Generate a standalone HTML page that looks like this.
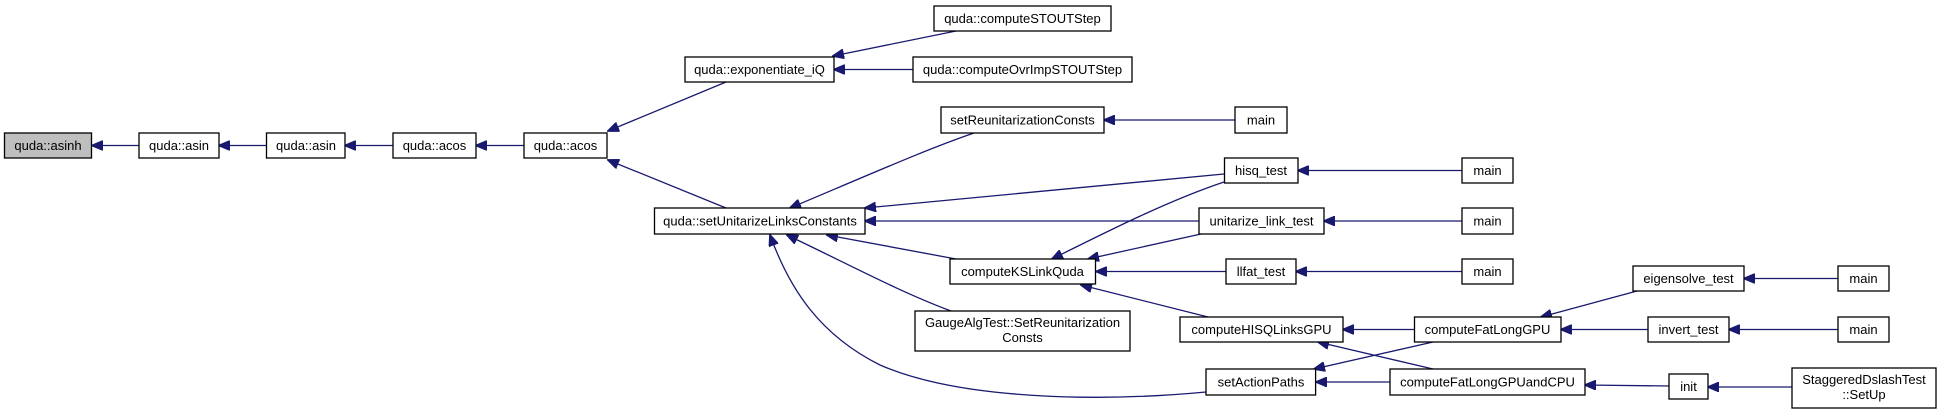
<!DOCTYPE html>
<html><head><meta charset="utf-8"><style>
html,body{margin:0;padding:0;background:#fff;}
svg{display:block;}
text{font-family:"Liberation Sans",Arial,sans-serif;font-size:13px;fill:#000;text-anchor:middle;}
rect{fill:#fff;stroke:#000;stroke-width:1.3;}
.e{fill:none;stroke:#191970;stroke-width:1.3;marker-end:url(#a);}
</style></head><body>
<svg width="1941" height="414" viewBox="0 0 1941 414" xmlns="http://www.w3.org/2000/svg">
<defs><marker id="a" markerWidth="12" markerHeight="10" refX="11" refY="5" orient="auto" markerUnits="userSpaceOnUse"><path d="M0,0 L12,5 L0,10 z" fill="#191970" stroke="#191970"/></marker></defs>
<!-- edges -->
<path class="e" d="M139,145.5 L92,145.5"/>
<path class="e" d="M266,145.5 L219,145.5"/>
<path class="e" d="M393,145.5 L345,145.5"/>
<path class="e" d="M524,145.5 L476,145.5"/>
<path class="e" d="M726,82 L608,131"/>
<path class="e" d="M726,208 L608,160"/>
<path class="e" d="M956,31 L833,56"/>
<path class="e" d="M913,69.5 L834,69.5"/>
<path class="e" d="M974,133 C930,148 880,170 790,208"/>
<path class="e" d="M1224,174 L865,208"/>
<path class="e" d="M1199,221 L865,221"/>
<path class="e" d="M956,259 L827,235"/>
<path class="e" d="M951,311 C900,292 850,265 787,235"/>
<path class="e" d="M1206,392 C1100,402 960,400 880,365 C820,335 790,290 770,235"/>
<path class="e" d="M1235,120 L1104,120"/>
<path class="e" d="M1224,182 C1170,200 1110,230 1052,259"/>
<path class="e" d="M1201,234 L1088,259"/>
<path class="e" d="M1226,271.5 L1096,271.5"/>
<path class="e" d="M1208,317 L1081,285"/>
<path class="e" d="M1462,170.5 L1298,170.5"/>
<path class="e" d="M1462,221 L1324,221"/>
<path class="e" d="M1462,271.5 L1296,271.5"/>
<path class="e" d="M1414,329.5 L1343,329.5"/>
<path class="e" d="M1433,369 L1318,342"/>
<path class="e" d="M1433,342 L1314,369"/>
<path class="e" d="M1390,382 L1316,382"/>
<path class="e" d="M1637,291 L1541,317"/>
<path class="e" d="M1648,329.5 L1561,329.5"/>
<path class="e" d="M1669,386 L1585,385"/>
<path class="e" d="M1792,387 L1708,387"/>
<path class="e" d="M1838,278.5 L1744,278.5"/>
<path class="e" d="M1838,329.5 L1729,329.5"/>
<!-- nodes -->
<rect x="4.5" y="133" width="87" height="25" style="fill:#bfbfbf"/><text x="48" y="150">quda::asinh</text>
<rect x="139" y="133" width="80" height="25"/><text x="179" y="150">quda::asin</text>
<rect x="266.5" y="133" width="78.5" height="25"/><text x="306" y="150">quda::asin</text>
<rect x="393" y="133" width="83" height="25"/><text x="434.5" y="150">quda::acos</text>
<rect x="524" y="133" width="83" height="25"/><text x="565.5" y="150">quda::acos</text>
<rect x="685" y="57" width="149" height="25"/><text x="759.5" y="74">quda::exponentiate_iQ</text>
<rect x="934" y="6" width="177" height="25"/><text x="1022.5" y="23">quda::computeSTOUTStep</text>
<rect x="913" y="57" width="219" height="25"/><text x="1022.5" y="74">quda::computeOvrImpSTOUTStep</text>
<rect x="941" y="107" width="163" height="26"/><text x="1022.5" y="124.5">setReunitarizationConsts</text>
<rect x="1235" y="107" width="52" height="26"/><text x="1261" y="124.5">main</text>
<rect x="1224.5" y="158" width="73.5" height="25"/><text x="1261" y="175">hisq_test</text>
<rect x="654.5" y="208" width="210.5" height="26"/><text x="760" y="225.5">quda::setUnitarizeLinksConstants</text>
<rect x="1199" y="208" width="125" height="26"/><text x="1261.5" y="225.5">unitarize_link_test</text>
<rect x="950" y="259" width="145.5" height="25"/><text x="1022.5" y="276">computeKSLinkQuda</text>
<rect x="1226" y="259" width="70" height="25"/><text x="1261" y="276">llfat_test</text>
<rect x="915" y="311" width="215" height="40"/><text x="1022.5" y="327">GaugeAlgTest::SetReunitarization</text><text x="1022.5" y="342">Consts</text>
<rect x="1180" y="317" width="163" height="25"/><text x="1261.5" y="334">computeHISQLinksGPU</text>
<rect x="1206" y="369" width="109.6" height="26"/><text x="1261" y="386.5">setActionPaths</text>
<rect x="1462" y="158" width="51" height="25"/><text x="1487.5" y="175">main</text>
<rect x="1462" y="208" width="51" height="26"/><text x="1487.5" y="225.5">main</text>
<rect x="1462" y="259" width="51" height="25"/><text x="1487.5" y="276">main</text>
<rect x="1633" y="266" width="111" height="25"/><text x="1688.5" y="283">eigensolve_test</text>
<rect x="1838" y="266" width="51" height="25"/><text x="1863.5" y="283">main</text>
<rect x="1414.5" y="317" width="146.5" height="25"/><text x="1487.5" y="334">computeFatLongGPU</text>
<rect x="1648" y="317" width="81" height="25"/><text x="1688.5" y="334">invert_test</text>
<rect x="1838" y="317" width="51" height="25"/><text x="1863.5" y="334">main</text>
<rect x="1390" y="369" width="195" height="26"/><text x="1487.5" y="386.5">computeFatLongGPUandCPU</text>
<rect x="1669" y="374" width="39" height="25"/><text x="1688.5" y="391">init</text>
<rect x="1792" y="368" width="144" height="40"/><text x="1864" y="384">StaggeredDslashTest</text><text x="1864" y="399">::SetUp</text>
</svg>
</body></html>
